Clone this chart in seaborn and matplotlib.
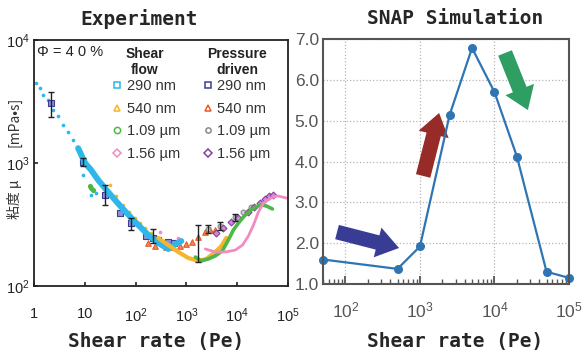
import matplotlib
matplotlib.use("Agg")
import matplotlib.pyplot as plt
import seaborn as sns
from matplotlib.lines import Line2D
from matplotlib.patches import FancyArrow
from matplotlib.ticker import LogLocator

# ---------------- Experiment (left) ----------------
# shear flow, 290 nm: sparse dots and dense band
cyan_dot_pe = [1.1, 1.3, 1.5, 1.9, 2.4, 3.0, 3.7, 4.7, 5.9, 9.3, 13.3, 16.7]
cyan_dot_mu = [4470, 4070, 3570, 3250, 2700, 2410, 2040, 1790, 1540, 798, 550, 570]
cyan_pe = [7.4, 10.1, 13.3, 18.3, 28.8, 52, 90, 177, 279, 440, 604, 793]
cyan_mu = [1320, 1000, 877, 728, 581, 439, 344, 260, 224, 200, 219, 232]

# shear flow, 540 nm
orange_dot_pe = [31.6, 41.4, 57, 75, 98, 123, 155, 203]
orange_dot_mu = [662, 540, 456, 400, 357, 325, 296, 270]
orange_pe = [279, 440, 692, 1090, 1720, 2470, 3720, 4880, 6120]
orange_mu = [246, 215, 189, 169, 160, 166, 189, 211, 246]

# shear flow, 1.09 um
green_dot_pe = [12.7, 13.3, 14.6]
green_dot_mu = [650, 627, 603]
green_pe = [1500, 1970, 2700, 3720, 5100, 6700, 8400, 10570, 13250, 16600, 22900, 30000, 37700, 49400]
green_mu = [172, 160, 166, 176, 193, 237, 285, 325, 364, 400, 439, 456, 447, 423]

# shear flow, 1.56 um
pink_dot_pe = [306, 692]
pink_dot_mu = [275, 246]
pink_pe = [2360, 3720, 5850, 9200, 12700, 16600, 20900, 26200, 32900, 45200, 62100, 93400]
pink_mu = [200, 189, 189, 196, 215, 255, 313, 400, 473, 519, 540, 519]

# pressure driven
p290_pe = [2.2, 9.3, 25, 50, 82, 162, 222, 279, 440, 577]
p290_mu = [3075, 1020, 550, 392, 325, 255, 246, 237, 228, 224]
p540_pe = [177, 244, 402, 552, 758, 995, 1310, 1720, 2360, 2960, 3720]
p540_mu = [224, 211, 207, 207, 211, 219, 228, 250, 275, 285, 285]
p109_pe = [2700, 4670, 9200, 13250, 19050]
p109_mu = [291, 307, 364, 400, 439]
p156_pe = [3890, 5350, 7690, 10570, 16600, 21800, 28700, 36000, 43200, 51800]
p156_mu = [270, 296, 331, 357, 400, 439, 473, 509, 540, 550]

# error bars (x, y, lower, upper)
err_pe = [2.2, 9.3, 25, 82, 222, 1720, 2700, 4670, 9200]
err_mu = [3075, 1020, 550, 325, 246, 250, 291, 307, 364]
err_lo = [2370, 946, 456, 285, 222, 157, 270, 285, 340]
err_hi = [3780, 1100, 662, 357, 290, 313, 315, 330, 385]

left_xticks = [1, 10, 100, 1000, 10000, 100000]
left_xlabels = ["1", "10", "$10^2$", "$10^3$", "$10^4$", "$10^5$"]
left_yticks = [100, 1000, 10000]
left_ylabels = ["$10^2$", "$10^3$", "$10^4$"]
legend_labels = ["290 nm", "540 nm", "1.09 µm", "1.56 µm"]

# ---------------- SNAP simulation (right) ----------------
sim_pe = [50, 500, 1000, 2500, 5000, 10000, 20000, 50000, 100000]
sim_mu = [1.60, 1.37, 1.92, 5.14, 6.78, 5.70, 4.12, 1.30, 1.15]
right_xticks = [100, 1000, 10000, 100000]
right_xlabels = ["$10^2$", "$10^3$", "$10^4$", "$10^5$"]
right_yticks = [1, 2, 3, 4, 5, 6, 7]
right_ylabels = ["1.0", "2.0", "3.0", "4.0", "5.0", "6.0", "7.0"]

sns.set_style("white")
plt.rcParams["font.family"] = ["Liberation Sans", "DejaVu Sans"]
plt.rcParams["mathtext.fontset"] = "custom"
plt.rcParams["mathtext.rm"] = "Liberation Sans"
plt.rcParams["mathtext.it"] = "Liberation Sans:italic"

C_CYAN, C_ORANGE, C_GREEN, C_PINK = "#2db7ea", "#f6b52c", "#4db848", "#f28cc0"
C_NAVY, C_RED, C_GRAY, C_PURPLE = "#3d3f94", "#e65a2a", "#8a8a8a", "#8c3c9e"

fig = plt.figure(figsize=(5.83, 3.61), dpi=100)
ax1 = fig.add_axes([34 / 583, 1 - 286 / 361, 254 / 583, 246 / 361])
ax2 = fig.add_axes([323 / 583, 1 - 284 / 361, 246 / 583, 245 / 361])

# ---- left panel
ax1.set_xscale("log")
ax1.set_yscale("log")
sns.lineplot(x=cyan_pe, y=cyan_mu, color=C_CYAN, lw=4.3, sort=False, estimator=None, ax=ax1)
sns.lineplot(x=orange_pe, y=orange_mu, color=C_ORANGE, lw=3, sort=False, estimator=None, ax=ax1)
sns.lineplot(x=green_pe, y=green_mu, color=C_GREEN, lw=2.6, sort=False, estimator=None, ax=ax1)
sns.lineplot(x=pink_pe, y=pink_mu, color=C_PINK, lw=2, sort=False, estimator=None, ax=ax1)
sns.scatterplot(x=cyan_dot_pe, y=cyan_dot_mu, color=C_CYAN, s=7, linewidth=0, ax=ax1)
sns.scatterplot(x=orange_dot_pe, y=orange_dot_mu, color=C_ORANGE, s=7, linewidth=0, ax=ax1)
sns.scatterplot(x=green_dot_pe, y=green_dot_mu, color=C_GREEN, s=14, linewidth=0, ax=ax1)
sns.scatterplot(x=pink_dot_pe, y=pink_dot_mu, color=C_PINK, s=7, linewidth=0, ax=ax1)

ax1.errorbar(err_pe, err_mu, yerr=[[m - l for m, l in zip(err_mu, err_lo)],
                                   [h - m for m, h in zip(err_mu, err_hi)]],
             fmt="none", ecolor="#222222", elinewidth=1, capsize=2, capthick=1)
sns.scatterplot(x=p290_pe, y=p290_mu, marker="s", color="#8d90d6", edgecolor=C_NAVY, s=16, linewidth=0.8, ax=ax1)
sns.scatterplot(x=p540_pe, y=p540_mu, marker="^", color="#f08a55", edgecolor=C_RED, s=16, linewidth=0.8, ax=ax1)
sns.scatterplot(x=p109_pe, y=p109_mu, marker="o", color="#cfcfcf", edgecolor=C_GRAY, s=12, linewidth=0.8, ax=ax1)
sns.scatterplot(x=p156_pe, y=p156_mu, marker="D", color="#c58fd3", edgecolor=C_PURPLE, s=12, linewidth=0.8, ax=ax1)

ax1.set_xlim(1, 1e5)
ax1.set_ylim(1e2, 1e4)
ax1.set_xticks(left_xticks)
ax1.set_xticklabels(left_xlabels)
ax1.set_yticks(left_yticks)
ax1.set_yticklabels(left_ylabels)
ax1.minorticks_off()
ax1.tick_params(axis="x", bottom=True, direction="in", length=3, width=1.2, pad=15,
                labelsize=10.5, colors="#222222")
ax1.tick_params(axis="y", left=True, direction="in", length=3, width=1.2, pad=3,
                labelsize=10.5, colors="#222222")
for sp in ax1.spines.values():
    sp.set_color("#222222")
    sp.set_linewidth(1.3)

ax1.text(0.012, 0.952, "Φ = 4 0 %", transform=ax1.transAxes, fontsize=10.5,
         va="center", ha="left", color="#222222")
ax1.text(0.437, 0.912, "Shear\nflow", transform=ax1.transAxes, fontsize=10,
         fontweight="bold", ha="center", va="center", linespacing=1.2, color="#222222")
ax1.text(0.80, 0.912, "Pressure\ndriven", transform=ax1.transAxes, fontsize=10,
         fontweight="bold", ha="center", va="center", linespacing=1.2, color="#222222")

handles = []
for mk, c in zip(["s", "^", "o", "D"], [C_CYAN, C_ORANGE, C_GREEN, C_PINK]):
    handles.append(Line2D([], [], ls="none", marker=mk, mfc="none", mec=c, ms=4.5, mew=1.1))
for mk, c in zip(["s", "^", "o", "D"], [C_NAVY, C_RED, C_GRAY, C_PURPLE]):
    handles.append(Line2D([], [], ls="none", marker=mk, mfc="none", mec=c, ms=3.8, mew=1.1))
ax1.legend(handles, legend_labels * 2, ncol=2, frameon=False, loc="upper left",
           bbox_to_anchor=(0.305, 0.84), borderpad=0, borderaxespad=0,
           handlelength=0.8, handletextpad=0.25, columnspacing=1.5,
           labelspacing=0.58, fontsize=10.5, labelcolor="#333333")

fig.text(14 / 583, 1 - 199 / 361, "粘度 μ", rotation=90, ha="center", va="center",
         fontsize=10, color="#333333", family=["Noto Sans CJK JP", "DejaVu Sans"])
fig.text(14 / 583, 1 - 122 / 361, "[mPa•s]", rotation=90, ha="center", va="center",
         fontsize=10, color="#333333", family=["Noto Sans CJK JP", "DejaVu Sans"])

# ---- right panel
ax2.set_xscale("log")
sns.lineplot(x=sim_pe, y=sim_mu, color="#2f74b3", lw=1.6, marker="o", markersize=6.5,
             markeredgewidth=0, sort=False, estimator=None, ax=ax2, clip_on=False)
ax2.set_xlim(50, 1e5)
ax2.set_ylim(1, 7)
ax2.set_xticks(right_xticks)
ax2.set_xticklabels(right_xlabels)
ax2.xaxis.set_minor_locator(LogLocator(base=10, subs=range(2, 10), numticks=20))
ax2.set_yticks(right_yticks)
ax2.set_yticklabels(right_ylabels)
ax2.grid(True, which="major", ls=":", lw=0.9, color="#b5b5b5")
ax2.tick_params(axis="x", which="major", bottom=True, direction="in", length=6, width=1.3,
                pad=12, labelsize=12.5, colors="#555555")
ax2.tick_params(axis="x", which="minor", bottom=True, direction="in", length=3.5, width=1.0,
                colors="#555555")
ax2.tick_params(axis="y", length=0, pad=3, labelsize=12.5, colors="#555555")
for sp in ax2.spines.values():
    sp.set_color("#555555")
    sp.set_linewidth(1.5)

for (x0, y0, x1, y1), c in zip([(0.057, 0.212, 0.309, 0.147),
                                (0.407, 0.441, 0.472, 0.698),
                                (0.740, 0.943, 0.833, 0.710)],
                               ["#383c95", "#962b28", "#2f9e62"]):
    ax2.add_patch(FancyArrow(x0, y0, x1 - x0, y1 - y0, width=0.06, head_width=0.125,
                             head_length=0.09, length_includes_head=True,
                             transform=ax2.transAxes, color=c, lw=0, clip_on=False))

mono = dict(family="DejaVu Sans Mono", fontweight="bold", fontsize=14, ha="center", va="center")
fig.text(139 / 583, 1 - 19 / 361, "Experiment", **mono)
fig.text(455 / 583, 1 - 19 / 361, "SNAP Simulation", **mono)
fig.text(156 / 583, 1 - 342 / 361, "Shear rate (Pe)", **mono)
fig.text(455 / 583, 1 - 342 / 361, "Shear rate (Pe)", **mono)

fig.savefig("out.png", dpi=100, facecolor="white")
